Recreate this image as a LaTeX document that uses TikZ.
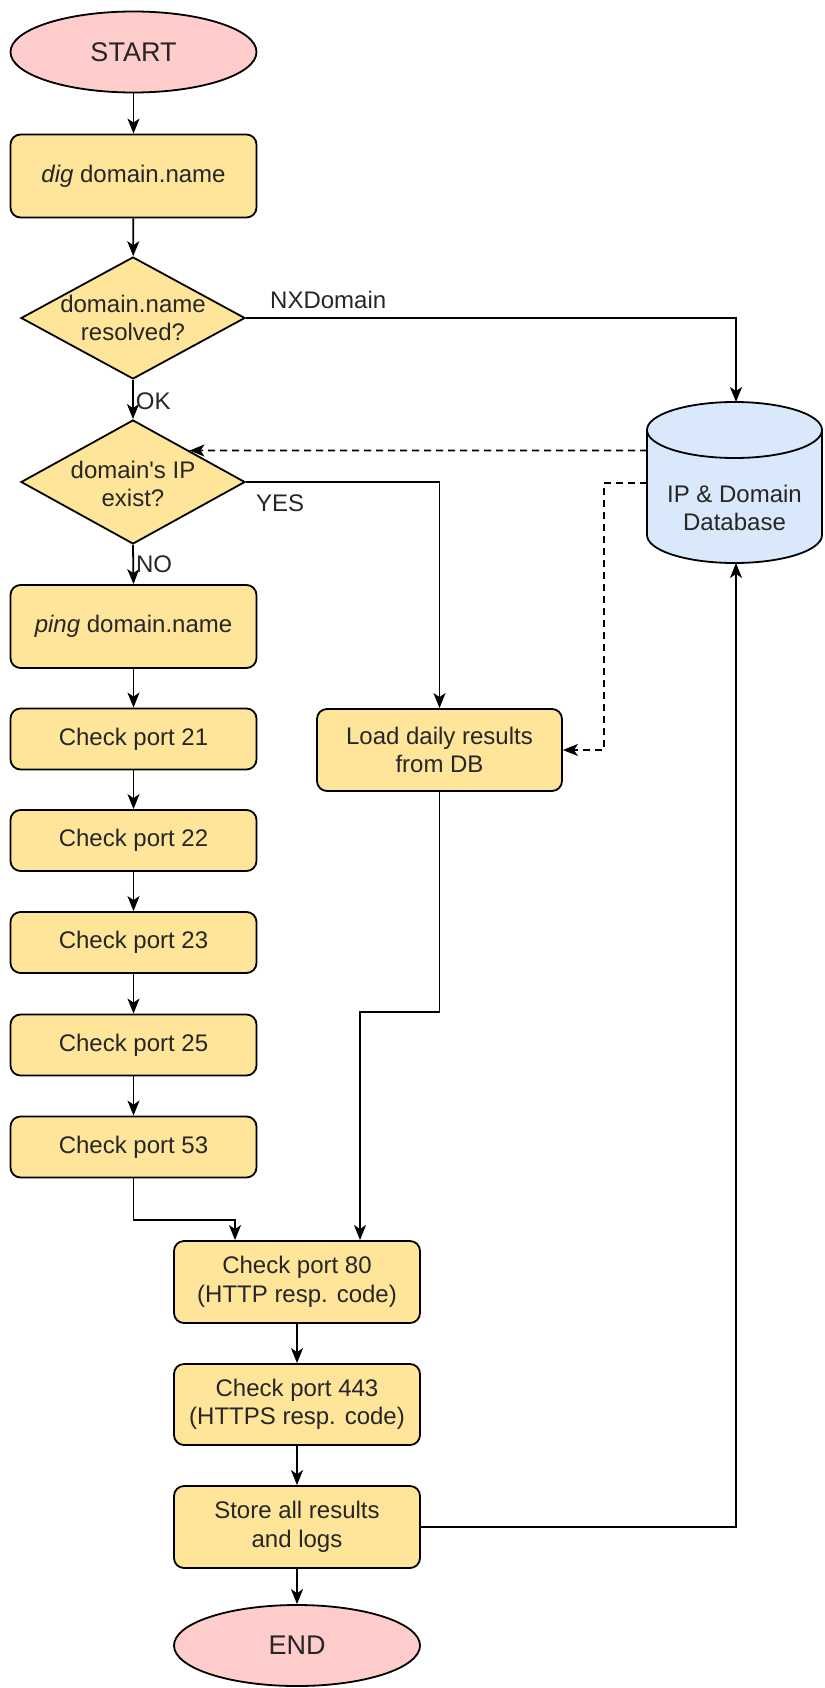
\documentclass[tikz,border=0pt]{standalone}
\usepackage{fontspec}
\setmainfont{Liberation Sans}[Ligatures=TeXOff]
\usetikzlibrary{shapes.geometric,arrows.meta,calc}
\definecolor{boxfill}{HTML}{FFE599}
\definecolor{termfill}{HTML}{FFCCCC}
\definecolor{dbfill}{HTML}{DAE8FC}
\definecolor{txt}{HTML}{262626}
\tikzset{
  base/.style={draw=black, line width=1.8pt, text=txt, align=center, inner sep=0pt,
    font=\fontsize{24}{28.5}\selectfont},
  stepbox/.style={base, rectangle, rounded corners=10pt, fill=boxfill, minimum width=246pt},
  tallbox/.style={stepbox, minimum height=83pt},
  shortbox/.style={stepbox, minimum height=61pt},
  term/.style={base, ellipse, fill=termfill, minimum width=246pt, minimum height=81pt,
    font=\fontsize{27}{30}\selectfont},
  dia/.style={base, diamond, fill=boxfill, minimum width=224pt, minimum height=122pt},
  lbl/.style={text=txt, inner sep=0pt, font=\fontsize{24}{28.5}\selectfont},
  conn/.style={draw=black, line width=1.8pt, -{Stealth[length=15pt,width=12pt,inset=4pt]}},
  dconn/.style={conn, dash pattern=on 7pt off 5pt},
}
\begin{document}
\begin{tikzpicture}[x=1pt,y=-1pt]
\useasboundingbox (0,0) rectangle (824,1688);
% terminals and steps
\node[term] (start) at (133.5,52) {START};
\node[tallbox] (dig) at (133.5,176) {\textit{dig} domain.name};
\node[dia] (d1) at (133,318) {};
\node[lbl, align=center] (d1t) at (133,318) {domain.name\\resolved?};
\node[dia, minimum height=124pt] (d2) at (133,482) {};
\node[lbl, align=center] (d2t) at (133,484) {domain's IP\\exist?};
\node[tallbox] (ping) at (133.5,626.5) {\textit{ping} domain.name};
\node[shortbox] (p21) at (133.5,739) {Check port 21};
\node[shortbox] (p22) at (133.5,840.5) {Check port 22};
\node[shortbox] (p23) at (133.5,942.5) {Check port 23};
\node[shortbox] (p25) at (133.5,1045) {Check port 25};
\node[shortbox] (p53) at (133.5,1147) {Check port 53};
\node[tallbox, minimum width=245pt, minimum height=82pt] (load) at (439.5,750) {Load daily results\\from DB};
\node[tallbox, minimum height=82pt] (p80) at (297,1282) {Check port 80\\(HTTP resp. code)};
\node[tallbox, minimum height=81pt] (p443) at (297,1404.5) {Check port 443\\(HTTPS resp. code)};
\node[tallbox, minimum height=82pt] (store) at (297,1527) {Store all results\\and logs};
\node[term] (end) at (297,1645.5) {END};
% database cylinder
\filldraw[fill=dbfill, draw=black, line width=1.8pt]
  (647,430) -- (647,535) arc[start angle=180, end angle=0, x radius=87.5, y radius=28]
  -- (822,430) arc[start angle=0, end angle=-180, x radius=87.5, y radius=28] -- cycle;
\draw[line width=1.8pt] (647,430) arc[start angle=180, end angle=0, x radius=87.5, y radius=28];
\node[lbl, align=center] (db) at (734.5,508) {IP \& Domain\\Database};
\coordinate (dbtop) at (736,402);
\coordinate (dbbot) at (736,563);
\coordinate (dbl1) at (647,450.5);
\coordinate (dbl2) at (647,483);
\coordinate (j1) at (235,1220);
\coordinate (j2) at (360,1012);
\coordinate (j3) at (604,750);
\coordinate (j4) at (736,318);
% connectors
\draw[conn] (start) -- (dig);
\draw[conn] (dig) -- (d1);
\draw[conn] (d1.south) -- (d2.north) node[lbl, pos=0.55, anchor=west, xshift=2pt] (ok) {OK};
\draw[conn] (d1.east) -- (j4) -- (dbtop);
\node[lbl, anchor=west] (nx) at (270,300) {NXDomain};
\draw[conn] (d2.east) -| (load.north);
\node[lbl, anchor=west] (yes) at (256,503) {YES};
\draw[conn] (d2.south) -- (ping.north) node[lbl, pos=0.5, anchor=west, xshift=2pt] (no) {NO};
\draw[conn] (ping) -- (p21);
\draw[conn] (p21) -- (p22);
\draw[conn] (p22) -- (p23);
\draw[conn] (p23) -- (p25);
\draw[conn] (p25) -- (p53);
\draw[conn] (p53.south) |- (j1) -- (j1 |- p80.north);
\draw[conn] (load.south) |- (j2) -- (j2 |- p80.north);
\draw[conn] (p80) -- (p443);
\draw[conn] (p443) -- (store);
\draw[conn] (store) -- (end);
\draw[conn] (store.east) -| (dbbot);
\draw[dconn] (dbl1) -- (d2.north east);
\draw[dconn] (dbl2) -| (j3) -- (load.east);
\end{tikzpicture}
\end{document}
